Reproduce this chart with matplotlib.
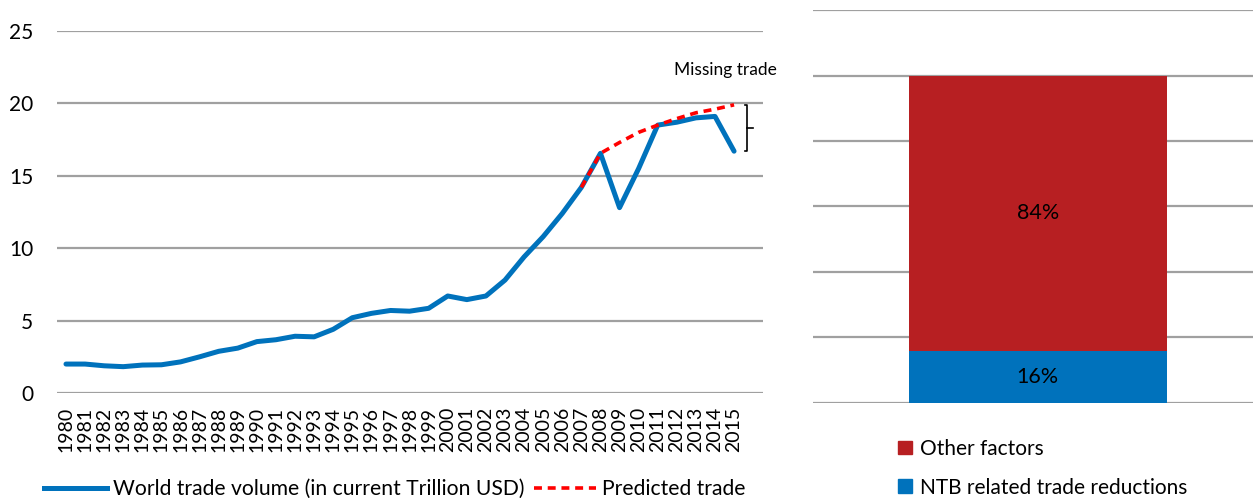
import matplotlib
matplotlib.use("Agg")
import matplotlib.pyplot as plt
from matplotlib.lines import Line2D
from matplotlib.patches import Patch

plt.rcParams['font.family'] = ['Lato', 'DejaVu Sans']

# world trade, trillion USD
years = list(range(1980, 2016))
trade = [2.0, 2.0, 1.88, 1.82, 1.93, 1.95, 2.15, 2.5, 2.88, 3.1,
         3.55, 3.68, 3.92, 3.88, 4.4, 5.2, 5.5, 5.7, 5.65, 5.85,
         6.7, 6.45, 6.7, 7.8, 9.4, 10.8, 12.4, 14.2, 16.55, 12.8,
         15.5, 18.5, 18.7, 19.0, 19.1, 16.7]
pred_years = list(range(2007, 2016))
pred = [14.2, 16.55, 17.3, 18.0, 18.5, 18.95, 19.35, 19.6, 19.9]

# decomposition of missing trade
shares = [0.16, 0.84]
share_labels = ['NTB related trade reductions', 'Other factors']
share_text = ['16%', '84%']

blue = '#0072BC'
darkred = '#B71F22'
grid = '#A0A0A0'

fig = plt.figure(figsize=(12.53, 4.98), dpi=100)

# left panel: line chart
ax = fig.add_axes([0.0455, 0.2108, 0.5635, 0.727])
x = list(range(len(years)))
px = [years.index(y) for y in pred_years]
ax.plot(x, trade, color=blue, lw=3.6, solid_capstyle='round', zorder=3)
ax.plot(px, pred, color='#FF0000', lw=2.6, ls=(0, (2.2, 1.6)), zorder=4)
ax.set_ylim(0, 25)
ax.set_xlim(-0.47, len(years) + 0.52)
ax.set_yticks([0, 5, 10, 15, 20, 25])
ax.set_xticks(x)
ax.set_xticklabels([str(y) for y in years], rotation=90)
ax.tick_params(length=0, labelsize=14)
ax.tick_params(axis='y', labelsize=15, pad=17)
ax.tick_params(axis='x', pad=10)
ax.grid(axis='y', color=grid, lw=1.6)
ax.set_axisbelow(True)
for s in ax.spines.values():
    s.set_visible(False)

# bracket marking the missing trade
xb = len(years) - 1 + 0.7
ax.plot([xb - 0.12, xb, xb, xb - 0.12], [pred[-1], pred[-1], trade[-1], trade[-1]],
        color='black', lw=1.2, clip_on=False)
ym = (pred[-1] + trade[-1]) / 2
ax.plot([xb, xb + 0.3], [ym, ym], color='black', lw=1.2, clip_on=False)
ax.text(len(years) - 1 - 0.45, 22.3, 'Missing trade', fontsize=12.5,
        ha='center', va='center')

handles = [Line2D([], [], color=blue, lw=3.6),
           Line2D([], [], color='#FF0000', lw=2.6, ls=(0, (2.2, 1.6)))]
ax.legend(handles, ['World trade volume (in current Trillion USD)', 'Predicted trade'],
          ncol=2, frameon=False, fontsize=15.2, handlelength=2.95,
          handletextpad=0.3, columnspacing=0.45,
          loc='upper left', bbox_to_anchor=(-0.03, -0.214), borderaxespad=0)

# right panel: stacked bar
ax2 = fig.add_axes([0.6488, 0.1908, 0.3512, 0.7891])
bottom = 0
cols = [blue, darkred]
for v, c, t in zip(shares, cols, share_text):
    ax2.bar(0, v, bottom=bottom, width=0.586, color=c, zorder=3)
    ax2.text(0, bottom + v / 2, t, ha='center', va='center', fontsize=15.5, zorder=4)
    bottom += v
ax2.set_xlim(-0.511, 0.489)
ax2.set_ylim(0, 1.2)
ax2.set_yticks([0, 0.2, 0.4, 0.6, 0.8, 1.0, 1.2])
ax2.set_yticklabels([])
ax2.set_xticks([])
ax2.tick_params(length=0)
ax2.grid(axis='y', color=grid, lw=1.6)
ax2.set_axisbelow(True)
for s in ax2.spines.values():
    s.set_visible(False)

phandles = [Patch(color=darkred), Patch(color=blue)]
ax2.legend(phandles, [share_labels[1], share_labels[0]], frameon=False,
           fontsize=15, handlelength=0.65, handleheight=0.65, handletextpad=0.4,
           labelspacing=0.9, loc='upper left', bbox_to_anchor=(0.175, -0.07),
           borderaxespad=0)

fig.savefig('out.png', dpi=100)
